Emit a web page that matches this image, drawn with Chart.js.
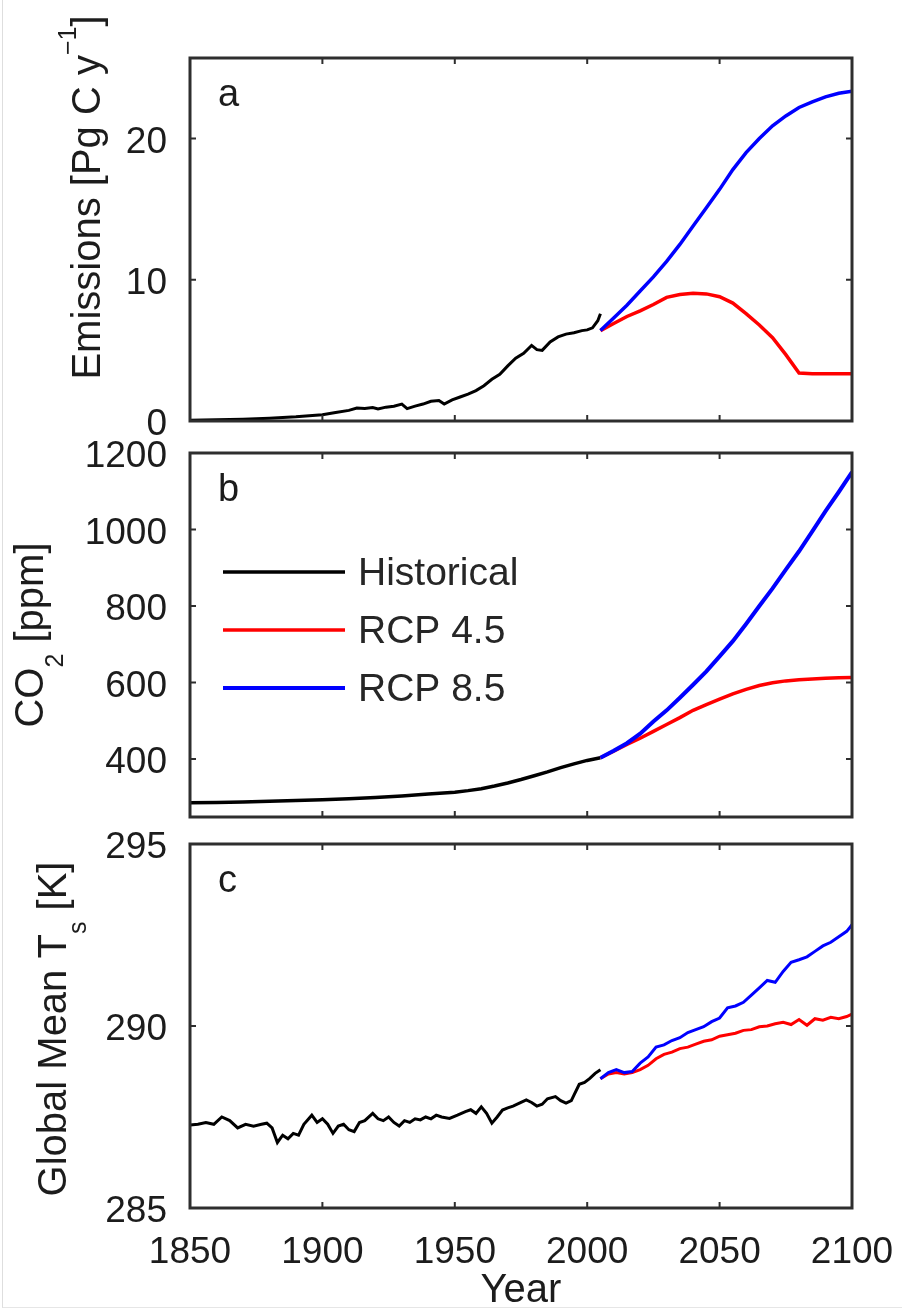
<!DOCTYPE html>
<html>
<head>
<meta charset="utf-8">
<title>Emissions, CO2 and global mean temperature, 1850–2100</title>
<script src="https://cdn.jsdelivr.net/npm/chart.js@4.4.1/dist/chart.umd.min.js"></script>
<style>
  html, body { margin: 0; padding: 0; background: #fff; }
  #wrap { position: relative; width: 902px; height: 1311px; overflow: hidden; }
  #wrap canvas { position: absolute; left: 0; top: 0; }
  #edge { position: absolute; left: 2px; top: 0; width: 900px; height: 1307px;
          border-left: 1px solid #dedede; border-bottom: 1px solid #e6e6e6; }
</style>
</head>
<body>
<div id="wrap">
  <div id="edge"></div>
  <canvas id="panelA" width="902" height="1311"></canvas>
  <canvas id="panelB" width="902" height="1311"></canvas>
  <canvas id="panelC" width="902" height="1311"></canvas>
</div>
<script>
/* Three stacked MATLAB-style panels: (a) emissions, (b) CO2, (c) global mean Ts.
 * Values. */

var X_TICKS = [1850, 1900, 1950, 2000, 2050, 2100];

// (a) emissions [Pg C / yr]
var EMIS_TICKS = [0, 10, 20];
var HIST_EMIS_YEARS = [1850, 1860, 1870, 1880, 1890, 1900, 1905, 1910, 1913, 1916, 1919, 1921, 1924, 1927,
  1930, 1932, 1935, 1938, 1941, 1944, 1946, 1949, 1952, 1955, 1958, 1961, 1964, 1967, 1970, 1973, 1976,
  1979, 1981, 1983, 1986, 1989, 1992, 1995, 1998, 2000, 2002, 2004, 2005];
var HIST_EMIS = [0.05, 0.08, 0.12, 0.2, 0.3, 0.45, 0.6, 0.75, 0.92, 0.88, 0.95, 0.85, 0.98, 1.05,
  1.2, 0.88, 1.05, 1.2, 1.4, 1.45, 1.2, 1.5, 1.7, 1.9, 2.15, 2.5, 2.95, 3.3, 3.9, 4.45, 4.8,
  5.35, 5.05, 5.0, 5.6, 5.95, 6.15, 6.25, 6.4, 6.45, 6.6, 7.1, 7.6];
var RCP_EMIS_YEARS = [2005, 2010, 2015, 2020, 2025, 2030, 2035, 2040, 2045, 2050,
  2055, 2060, 2065, 2070, 2075, 2080, 2085, 2090, 2095, 2100];
var RCP45_EMIS = [6.4, 6.9, 7.4, 7.8, 8.25, 8.75, 8.95, 9.05, 9.0, 8.8,
  8.35, 7.6, 6.8, 5.9, 4.7, 3.4, 3.35, 3.35, 3.35, 3.35];
var RCP85_EMIS = [6.4, 7.3, 8.2, 9.2, 10.2, 11.3, 12.5, 13.8, 15.1, 16.4,
  17.8, 19.0, 20.0, 20.9, 21.6, 22.2, 22.6, 22.95, 23.2, 23.35];

// (b) CO2 [ppm]
var CO2_TICKS = [400, 600, 800, 1000, 1200];
var HIST_CO2_YEARS = [1850, 1860, 1870, 1880, 1890, 1900, 1910, 1920, 1930, 1940, 1950,
  1955, 1960, 1965, 1970, 1975, 1980, 1985, 1990, 1995, 2000, 2005];
var HIST_CO2 = [285, 286, 287.5, 289, 291, 293, 296, 299, 303, 308, 313,
  317, 322, 329, 337, 346, 356, 366, 377, 387, 396, 403];
var RCP_CO2_YEARS = [2005, 2010, 2015, 2020, 2025, 2030, 2035, 2040, 2045, 2050,
  2055, 2060, 2065, 2070, 2075, 2080, 2085, 2090, 2095, 2100];
var RCP45_CO2 = [403, 420, 438, 454, 472, 490, 508, 527, 542, 556,
  570, 582, 592, 599, 604, 607, 609, 611, 612, 613];
var RCP85_CO2 = [403, 421, 441, 466, 498, 527, 560, 594, 629, 668,
  708, 753, 800, 846, 895, 943, 995, 1048, 1098, 1150];

// (c) global mean surface temperature [K]
var T_TICKS = [285, 290, 295];
var HIST_T_YEARS = [1850, 1853, 1856, 1859, 1862, 1865, 1868, 1871, 1874, 1877, 1879, 1881, 1883, 1885,
  1887, 1889, 1891, 1893, 1896, 1898, 1900, 1902, 1904, 1906, 1908, 1910, 1912, 1914, 1916, 1919,
  1921, 1923, 1925, 1927, 1929, 1931, 1933, 1935, 1937, 1939, 1941, 1943, 1945, 1948, 1951, 1954,
  1956, 1958, 1960, 1962, 1964, 1966, 1968, 1970, 1972, 1975, 1977, 1979, 1981, 1983, 1985, 1988,
  1990, 1992, 1994, 1995, 1997, 1999, 2001, 2003, 2005];
var HIST_T = [287.28, 287.3, 287.35, 287.3, 287.5, 287.4, 287.2, 287.3, 287.25, 287.3, 287.33, 287.2, 286.8, 287.0,
  286.9, 287.05, 287.0, 287.3, 287.55, 287.35, 287.45, 287.3, 287.05, 287.25, 287.3, 287.15, 287.1, 287.35, 287.4, 287.6,
  287.45, 287.4, 287.5, 287.35, 287.25, 287.4, 287.35, 287.45, 287.42, 287.5, 287.45, 287.55, 287.5, 287.46, 287.55, 287.65,
  287.7, 287.6, 287.78, 287.6, 287.33, 287.5, 287.69, 287.75, 287.8, 287.9, 287.97, 287.9, 287.8, 287.85, 288.0, 288.06,
  287.95, 287.88, 287.95, 288.1, 288.4, 288.45, 288.56, 288.7, 288.8];
var RCP_T_YEARS = [2005, 2008, 2011, 2014, 2017, 2020, 2023, 2026, 2029, 2032, 2035, 2038, 2041, 2044, 2047, 2050,
  2053, 2056, 2059, 2062, 2065, 2068, 2071, 2074, 2077, 2080, 2083, 2086, 2089, 2092, 2095, 2098, 2100];
var RCP45_T = [288.55, 288.68, 288.72, 288.68, 288.72, 288.8, 288.92, 289.1, 289.22, 289.28, 289.38, 289.42, 289.5, 289.58, 289.62, 289.72,
  289.76, 289.8, 289.88, 289.9, 289.98, 290.0, 290.06, 290.1, 290.04, 290.18, 290.02, 290.2, 290.16, 290.24, 290.2, 290.26, 290.33];
var RCP85_T = [288.55, 288.72, 288.8, 288.72, 288.75, 288.98, 289.15, 289.42, 289.48, 289.6, 289.68, 289.82, 289.9, 289.98, 290.12, 290.22,
  290.5, 290.55, 290.65, 290.85, 291.05, 291.25, 291.2, 291.5, 291.75, 291.82, 291.9, 292.05, 292.2, 292.3, 292.45, 292.6, 292.78];

var FONT = "'Liberation Sans', Arial, Helvetica, sans-serif";
var INK = '#1c1c1c';
var BLACK = '#000000', RED = '#ff0000', BLUE = '#0000ff';

/* Boxed axes with inward ticks, panel letter, rotated y label with sub/superscripts
 * and (panel b only) the legend. Everything hangs off the chart's own scales. */
var matlabAxes = {
  id: 'matlabAxes',
  afterDraw: function (chart, args, o) {
    var ctx = chart.ctx, a = chart.chartArea;
    var xs = chart.scales.x, ys = chart.scales.y;
    ctx.save();

    ctx.strokeStyle = '#2e2e2e';
    ctx.lineWidth = 2;
    ctx.beginPath();
    xs.ticks.forEach(function (t) {
      var px = xs.getPixelForValue(t.value);
      ctx.moveTo(px, a.bottom); ctx.lineTo(px, a.bottom - 6);
      ctx.moveTo(px, a.top); ctx.lineTo(px, a.top + 6);
    });
    ys.ticks.forEach(function (t) {
      var py = ys.getPixelForValue(t.value);
      ctx.moveTo(a.left, py); ctx.lineTo(a.left + 6, py);
      ctx.moveTo(a.right, py); ctx.lineTo(a.right - 6, py);
    });
    ctx.stroke();
    ctx.lineWidth = 3;
    ctx.strokeRect(a.left, a.top, a.right - a.left, a.bottom - a.top);

    ctx.fillStyle = INK;
    ctx.textBaseline = 'alphabetic';
    ctx.font = '38px ' + FONT;
    ctx.fillText(o.letter, a.left + 28, a.top + 48);

    if (o.legend) {
      ctx.textBaseline = 'middle';
      ctx.font = '39px ' + FONT;
      chart.data.datasets.forEach(function (ds, i) {
        var y = a.top + 119 + i * 58;
        ctx.strokeStyle = ds.borderColor;
        ctx.lineWidth = ds.borderWidth;
        ctx.beginPath();
        ctx.moveTo(a.left + 33, y);
        ctx.lineTo(a.left + 155, y);
        ctx.stroke();
        ctx.fillStyle = '#262626';
        ctx.fillText(ds.label, a.left + 168, y + 2);
      });
    }

    // y label, written bottom-to-top
    var size = 40;
    var parts = o.title.map(function (p) {
      var s = p.sup || p.sub ? Math.round(size * 0.62) : size;
      ctx.font = s + 'px ' + FONT;
      return { text: p.text, size: s, w: ctx.measureText(p.text).width, shift: p.sup ? -24 : (p.sub ? 20 : 0) };
    });
    var total = parts.reduce(function (n, p) { return n + p.w; }, 0);
    ctx.fillStyle = INK;
    ctx.textBaseline = 'alphabetic';
    ctx.textAlign = 'left';
    ctx.translate(o.titleX, (a.top + a.bottom) / 2 + o.titleShift);
    ctx.rotate(-Math.PI / 2);
    var cx = -total / 2;
    parts.forEach(function (p) {
      ctx.font = p.size + 'px ' + FONT;
      ctx.fillText(p.text, cx, p.shift);
      cx += p.w;
    });
    ctx.restore();
  }
};

function series(label, years, values, color, order, width) {
  return {
    label: label,
    data: years.map(function (yr, i) { return { x: yr, y: values[i] }; }),
    borderColor: color,
    backgroundColor: color,
    borderWidth: width,
    pointRadius: 0,
    tension: 0,
    order: order
  };
}

function asTicks(list) {
  return function (scale) { scale.ticks = list.map(function (v) { return { value: v }; }); };
}

function plain(v) { return String(v); }

function makePanel(id, p) {
  return new Chart(document.getElementById(id), {
    type: 'line',
    data: { datasets: p.datasets },
    options: {
      responsive: false,
      animation: false,
      events: [],
      layout: { padding: { left: 0, right: 50, top: p.top, bottom: p.bottom } },
      plugins: {
        legend: { display: false },
        tooltip: { enabled: false },
        matlabAxes: { letter: p.letter, title: p.title, titleX: p.titleX, titleShift: p.titleShift, legend: !!p.legend }
      },
      scales: {
        x: {
          type: 'linear',
          min: 1850,
          max: 2100,
          grid: { display: false },
          border: { display: false },
          afterBuildTicks: asTicks(X_TICKS),
          // fixed height; end labels may hang past the box, as in the figure
          afterFit: function (s) { s.height = p.xHeight; s.paddingLeft = 0; s.paddingRight = 0; },
          ticks: { display: p.xLabels, autoSkip: false, maxRotation: 0, padding: 15, color: INK,
                   callback: plain, font: { family: FONT, size: 37 } },
          title: { display: p.xLabels, text: 'Year', color: INK, padding: 0,
                   font: { family: FONT, size: 40, lineHeight: 1 } }
        },
        y: {
          type: 'linear',
          min: p.yMin,
          max: p.yMax,
          grid: { display: false },
          border: { display: false },
          afterBuildTicks: asTicks(p.yTicks),
          afterFit: function (s) { s.width = 190; s.paddingTop = 0; s.paddingBottom = 0; },
          ticks: { autoSkip: false, padding: 15, labelOffset: 4, color: INK,
                   callback: plain, font: { family: FONT, size: 37 } }
        }
      }
    },
    plugins: [matlabAxes]
  });
}

makePanel('panelA', {
  letter: 'a',
  top: 58, bottom: 890, xHeight: 0, xLabels: false,
  yMin: 0, yMax: 25.7, yTicks: EMIS_TICKS,
  titleX: 100, titleShift: -42,
  title: [{ text: 'Emissions [Pg C y' }, { text: '\u22121', sup: true }, { text: ']' }],
  datasets: [
    series('Historical', HIST_EMIS_YEARS, HIST_EMIS, BLACK, 3, 3),
    series('RCP 4.5', RCP_EMIS_YEARS, RCP45_EMIS, RED, 2, 3.5),
    series('RCP 8.5', RCP_EMIS_YEARS, RCP85_EMIS, BLUE, 1, 3.5)
  ]
});

makePanel('panelB', {
  letter: 'b',
  top: 453, bottom: 494, xHeight: 0, xLabels: false,
  yMin: 248, yMax: 1200, yTicks: CO2_TICKS,
  titleX: 43, titleShift: 0,
  title: [{ text: 'CO' }, { text: '2', sub: true }, { text: ' [ppm]' }],
  legend: true,
  datasets: [
    series('Historical', HIST_CO2_YEARS, HIST_CO2, BLACK, 3, 3.5),
    series('RCP 4.5', RCP_CO2_YEARS, RCP45_CO2, RED, 2, 3.5),
    series('RCP 8.5', RCP_CO2_YEARS, RCP85_CO2, BLUE, 1, 4)
  ]
});

makePanel('panelC', {
  letter: 'c',
  top: 844, bottom: 0, xHeight: 103, xLabels: true,
  yMin: 285, yMax: 295, yTicks: T_TICKS,
  titleX: 66, titleShift: 3,
  title: [{ text: 'Global Mean T' }, { text: 's', sub: true }, { text: ' [K]' }],
  datasets: [
    series('Historical', HIST_T_YEARS, HIST_T, BLACK, 3, 3),
    series('RCP 4.5', RCP_T_YEARS, RCP45_T, RED, 2, 3),
    series('RCP 8.5', RCP_T_YEARS, RCP85_T, BLUE, 1, 3)
  ]
});
</script>
</body>
</html>
